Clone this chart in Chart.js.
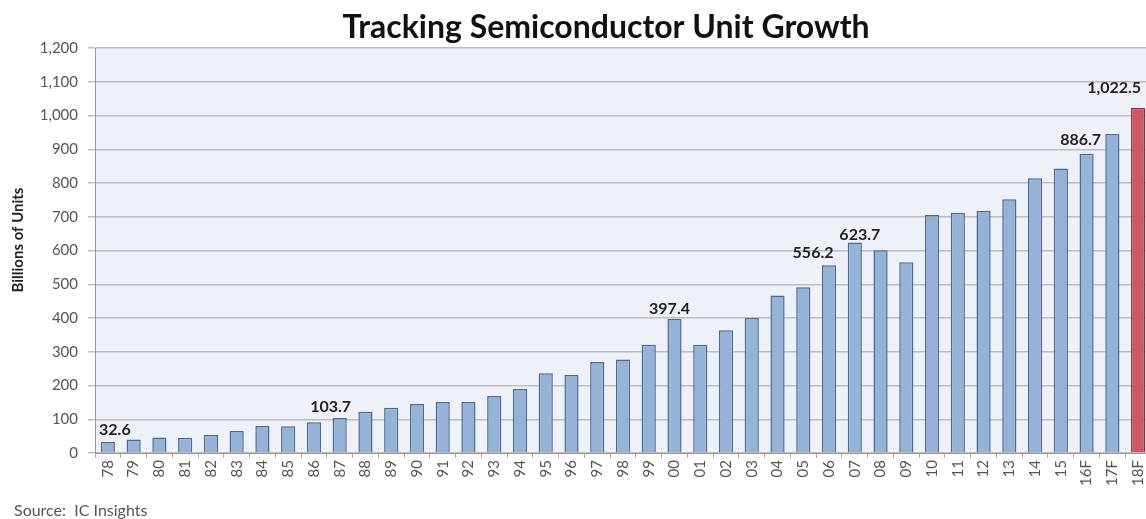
<!DOCTYPE html>
<html>
<head>
<meta charset="utf-8">
<script src="https://cdn.jsdelivr.net/npm/chart.js@4/dist/chart.umd.min.js"></script>
<style>
  html, body { margin: 0; background: #fff; overflow: hidden; }
  #wrap { position: relative; width: 1146px; height: 519px; overflow: hidden; }
  #box { position: absolute; left: 0; top: 0; width: 1151px; height: 519px; }
  #source { position: absolute; left: 14px; top: 500px; font: 16px Lato, sans-serif; color: #555; }
</style>
</head>
<body>
<div id="wrap">
  <div id="box"><canvas id="unitChart"></canvas></div>
  <div id="source">Source:&nbsp; IC Insights</div>
</div>
<script>
// years, F = forecast
var years = ["78","79","80","81","82","83","84","85","86","87","88","89","90","91","92","93","94","95","96","97","98","99",
  "00","01","02","03","04","05","06","07","08","09","10","11","12","13","14","15","16F","17F","18F"];
// billions of units
var units = [32.6, 40, 46, 45, 53, 65, 80, 79, 91, 103.7, 122, 134, 145, 151, 151, 169, 190, 236, 231, 270, 277, 321,
  397.4, 321, 364, 400, 467, 491, 556.2, 623.7, 601, 565, 705, 712, 717, 752, 814, 843, 886.7, 945, 1022.5];
// bars that carry a value label
var labelled = ["78", "87", "00", "06", "07", "16F", "18F"];
var yTicks = [0, 100, 200, 300, 400, 500, 600, 700, 800, 900, 1000, 1100, 1200];
var chartTitle = "Tracking Semiconductor Unit Growth";
var yTitle = "Billions of Units";

var barFill = years.map(function (y) { return y === "18F" ? "#cd5866" : "#95b3d7"; });
var barEdge = years.map(function (y) { return y === "18F" ? "#8e2f3b" : "#4a6a9a"; });

// label nudges in px, relative to the bar top centre
var nudge = { "78": [7, -12], "87": [-9, -11], "00": [-5, -10], "06": [-16, -12], "07": [5, -8], "16F": [-6, -14], "18F": [-24, -20] };

var plotBg = {
  id: "plotBg",
  beforeDraw: function (chart) {
    var a = chart.chartArea, ctx = chart.ctx;
    ctx.save();
    ctx.fillStyle = "#eef1f8";
    ctx.fillRect(a.left, a.top, a.right - a.left, a.bottom - a.top);
    ctx.restore();
  }
};

// heading and rotated axis title
var headings = {
  id: "headings",
  afterDraw: function (chart) {
    var ctx = chart.ctx;
    ctx.save();
    ctx.fillStyle = "#111";
    ctx.textAlign = "center";
    ctx.textBaseline = "alphabetic";
    ctx.font = "bold 32px Lato, sans-serif";
    ctx.fillText(chartTitle, 606, 38);
    ctx.translate(18, 240);
    ctx.rotate(-Math.PI / 2);
    ctx.textBaseline = "middle";
    ctx.font = "bold 15px Lato, sans-serif";
    ctx.fillStyle = "#222";
    ctx.fillText(yTitle, 0, 0);
    ctx.restore();
  }
};

var valueLabels = {
  id: "valueLabels",
  afterDatasetsDraw: function (chart) {
    var ctx = chart.ctx, meta = chart.getDatasetMeta(0);
    ctx.save();
    ctx.font = "bold 16px Lato, sans-serif";
    ctx.fillStyle = "#222";
    ctx.textAlign = "center";
    ctx.textBaseline = "middle";
    labelled.forEach(function (y) {
      var i = years.indexOf(y);
      var bar = meta.data[i];
      var d = nudge[y] || [0, -12];
      var txt = units[i].toLocaleString("en-US", { minimumFractionDigits: 1 });
      ctx.fillText(txt, bar.x + d[0], bar.y + d[1]);
    });
    ctx.restore();
  }
};

var ctx = document.getElementById("unitChart").getContext("2d");
var chart = new Chart(ctx, {
  type: "bar",
  data: {
    labels: years,
    datasets: [{
      data: units,
      backgroundColor: barFill,
      borderColor: barEdge,
      borderWidth: 1.5,
      barPercentage: 0.55,
      categoryPercentage: 1
    }]
  },
  options: {
    responsive: true,
    maintainAspectRatio: false,
    animation: false,
    layout: { padding: { left: 0, right: 0, top: 48, bottom: 0 } },
    plugins: {
      legend: { display: false },
      tooltip: { enabled: false },
      title: { display: false }
    },
    scales: {
      x: {
        grid: { drawOnChartArea: false, drawTicks: true, tickLength: 5, offset: true, color: "#aaa" },
        border: { color: "#999", width: 1 },
        ticks: {
          autoSkip: false, minRotation: 90, maxRotation: 90, padding: 2,
          color: "#555", font: { family: "Lato", size: 15 }
        },
        afterFit: function (s) { s.height = 66; s.paddingRight = 0; }
      },
      y: {
        min: 0, max: 1200,
        afterBuildTicks: function (s) { s.ticks = yTicks.map(function (v) { return { value: v }; }); },
        grid: { color: "#bdbdbd", lineWidth: 1.5, tickLength: 7 },
        border: { color: "#999", width: 1 },
        ticks: {
          color: "#555", padding: 10, font: { family: "Lato", size: 15 },
          callback: function (v) { return v.toLocaleString("en-US"); }
        },
        afterFit: function (s) { s.width = 95; }
      }
    }
  },
  plugins: [plotBg, valueLabels, headings]
});
</script>
</body>
</html>
